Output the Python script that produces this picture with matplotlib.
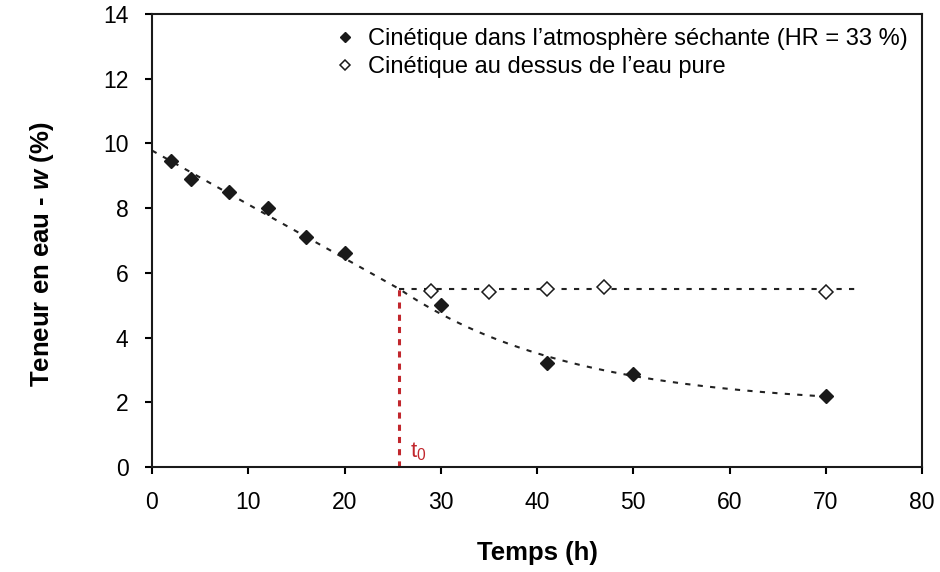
import numpy as np
import matplotlib
matplotlib.use('Agg')
import matplotlib.pyplot as plt

plt.rcParams['font.family'] = ['Liberation Sans', 'DejaVu Sans']
plt.rcParams['mathtext.fontset'] = 'custom'
plt.rcParams['mathtext.rm'] = 'Liberation Sans'
plt.rcParams['mathtext.bf'] = 'Liberation Sans:bold'
plt.rcParams['mathtext.bfit'] = 'Liberation Sans:bold:italic'

# séchage HR = 33 %
t_sec = [2, 4, 8, 12, 16, 20, 30, 41, 50, 70]
w_sec = [9.45, 8.9, 8.5, 8.0, 7.1, 6.6, 5.0, 3.22, 2.87, 2.2]

# au dessus de l'eau pure
t_eau = [29, 35, 41, 47, 70]
w_eau = [5.44, 5.41, 5.5, 5.56, 5.42]

t0 = 25.7
w_palier = 5.5
t_fin = 73

x = np.array(t_sec, float)
y = np.array(w_sec, float)

# avant t0 : droite passant par (t0, palier)
m1 = x < t0
pente = np.sum((x[m1] - t0) * (y[m1] - w_palier)) / np.sum((x[m1] - t0) ** 2)

# après t0 : décroissance exponentielle partant du palier
x2, y2 = x[~m1], y[~m1]
best = None
for k in np.linspace(0.01, 0.2, 400):
    e = np.exp(-k * (x2 - t0))
    a = np.sum((y2 - w_palier * e) * (1 - e)) / np.sum((1 - e) ** 2)
    err = np.sum((a + (w_palier - a) * e - y2) ** 2)
    if best is None or err < best[0]:
        best = (err, k, a)
_, k, a = best

ta = np.linspace(0, t0, 50)
tb = np.linspace(t0, 70, 150)
tt = np.concatenate([ta, tb])
ww = np.concatenate([w_palier + pente * (ta - t0),
                     a + (w_palier - a) * np.exp(-k * (tb - t0))])

fig = plt.figure(figsize=(9.4, 5.72), dpi=100)
ax = fig.add_axes([0.1617, 0.1836, 0.9809 - 0.1617, 0.9755 - 0.1836])

ax.plot(tt, ww, color='#222222', ls=(0, (2.5, 3.5)), lw=1.5)
ax.plot([t0, t_fin], [w_palier, w_palier], color='#222222', ls=(0, (2.5, 3.5)), lw=1.5)
ax.plot([t0, t0], [0, w_palier], color='#c1272d', ls=(0, (2, 2)), lw=2.2)
ax.text(t0 + 1.1, 0.3, r'$\mathregular{t_0}$', color='#c1272d', fontsize=16)

ax.plot(t_sec, w_sec, 'D', color='#1a1a1a', ms=7, ls='none',
        label='Cinétique dans l’atmosphère séchante (HR = 33 %)')
ax.plot(t_eau, w_eau, 'D', mfc='white', mec='#1a1a1a', mew=1.1, ms=7, ls='none',
        label='Cinétique au dessus de l’eau pure')

ax.set_xlim(0, 80)
ax.set_ylim(0, 14)
ax.set_xticks(range(0, 81, 10))
ax.set_yticks(range(0, 15, 2))
ax.tick_params(direction='out', length=5, width=1.5, labelsize=16.5)
ax.tick_params(axis='x', pad=12)
ax.tick_params(axis='y', pad=12)
for s in ax.spines.values():
    s.set_linewidth(1.5)
    s.set_color('#1a1a1a')

ax.set_xlabel('Temps (h)', fontsize=18.5, fontweight='bold', labelpad=20)
ax.set_ylabel(r'Teneur en eau - $\mathbfit{w}$ (%)', fontsize=18.5, fontweight='bold', labelpad=44)
ax.yaxis.set_label_coords(-0.125, 0.47)

leg = ax.legend(loc='upper right', frameon=False, fontsize=17, handlelength=0.6,
                handletextpad=0.7, markerscale=0.75, borderaxespad=0.2, labelspacing=0.25)

fig.savefig('out.png', dpi=100)
